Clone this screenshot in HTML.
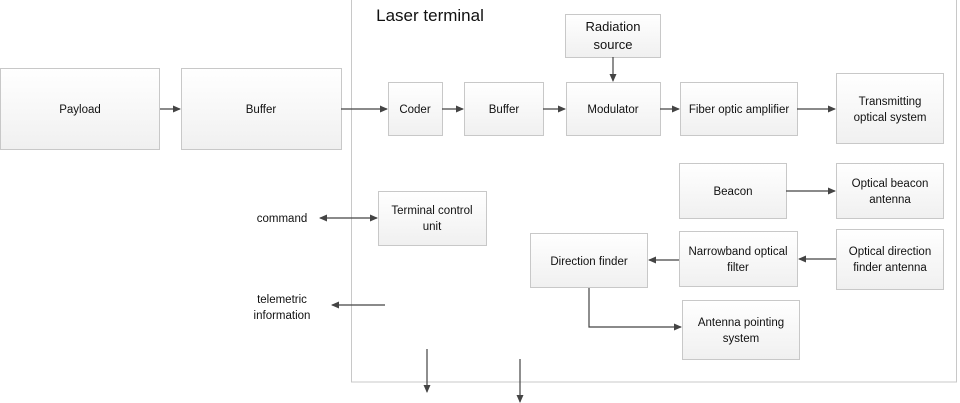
<!DOCTYPE html>
<html><head><meta charset="utf-8"><style>
html,body{margin:0;padding:0;background:#fff;}
svg{display:block;}
text{font-family:"Liberation Sans",sans-serif;font-size:11.5px;fill:#111;text-anchor:middle;}
.b{fill:url(#g);stroke:#c8c8c8;stroke-width:1;}
.l{stroke:#444;stroke-width:1.2;fill:none;}
</style></head><body>
<svg width="960" height="403" viewBox="0 0 960 403">
<defs>
<linearGradient id="g" x1="0" y1="0" x2="0" y2="1"><stop offset="0" stop-color="#ffffff"/><stop offset="1" stop-color="#f0f0f0"/></linearGradient>
<marker id="a" markerWidth="8" markerHeight="8" refX="7" refY="4" orient="auto" markerUnits="userSpaceOnUse"><path d="M0,0.5 L8,4 L0,7.5 z" fill="#444"/></marker>
<marker id="s" markerWidth="8" markerHeight="8" refX="1" refY="4" orient="auto" markerUnits="userSpaceOnUse"><path d="M8,0.5 L0,4 L8,7.5 z" fill="#444"/></marker>
</defs>
<rect x="351.5" y="-1" width="605" height="383" fill="none" stroke="#c8c8c8"/>
<text x="430" y="21" style="font-size:17px">Laser terminal</text>

<rect class="b" x="0.5" y="68.5" width="159" height="81"/><text x="80" y="113">Payload</text>
<rect class="b" x="181.5" y="68.5" width="160" height="81"/><text x="261" y="113">Buffer</text>
<rect class="b" x="388.5" y="82.5" width="54" height="53"/><text x="415" y="113">Coder</text>
<rect class="b" x="464.5" y="82.5" width="79" height="53"/><text x="504" y="113">Buffer</text>
<rect class="b" x="566.5" y="82.5" width="94" height="53"/><text x="613" y="113">Modulator</text>
<rect class="b" x="565.5" y="14.5" width="95" height="43"/><text x="613" y="31" style="font-size:13px">Radiation</text><text x="613" y="49" style="font-size:13px">source</text>
<rect class="b" x="680.5" y="82.5" width="117" height="53"/><text x="739" y="113">Fiber optic amplifier</text>
<rect class="b" x="836.5" y="73.5" width="107" height="70"/><text x="890" y="105">Transmitting</text><text x="890" y="121">optical system</text>
<rect class="b" x="679.5" y="163.5" width="107" height="55"/><text x="733" y="195">Beacon</text>
<rect class="b" x="836.5" y="163.5" width="107" height="55"/><text x="890" y="187">Optical beacon</text><text x="890" y="203">antenna</text>
<rect class="b" x="378.5" y="191.5" width="108" height="54"/><text x="432" y="214">Terminal control</text><text x="432" y="230">unit</text>
<rect class="b" x="530.5" y="233.5" width="117" height="54"/><text x="589" y="265">Direction finder</text>
<rect class="b" x="679.5" y="231.5" width="118" height="55"/><text x="738" y="255">Narrowband optical</text><text x="738" y="271">filter</text>
<rect class="b" x="836.5" y="229.5" width="107" height="60"/><text x="890" y="255">Optical direction</text><text x="890" y="271">finder antenna</text>
<rect class="b" x="682.5" y="300.5" width="117" height="59"/><text x="741" y="326">Antenna pointing</text><text x="741" y="342">system</text>

<line class="l" x1="160" y1="109" x2="180" y2="109" marker-end="url(#a)"/>
<line class="l" x1="341" y1="109" x2="387" y2="109" marker-end="url(#a)"/>
<line class="l" x1="442" y1="109" x2="463" y2="109" marker-end="url(#a)"/>
<line class="l" x1="543" y1="109" x2="565" y2="109" marker-end="url(#a)"/>
<line class="l" x1="613" y1="57" x2="613" y2="81" marker-end="url(#a)"/>
<line class="l" x1="660" y1="109" x2="679" y2="109" marker-end="url(#a)"/>
<line class="l" x1="797" y1="109" x2="835" y2="109" marker-end="url(#a)"/>
<line class="l" x1="786" y1="191" x2="835" y2="191" marker-end="url(#a)"/>
<line class="l" x1="836" y1="259" x2="799" y2="259" marker-end="url(#a)"/>
<line class="l" x1="679" y1="260" x2="649" y2="260" marker-end="url(#a)"/>
<polyline class="l" points="589,288 589,327 681,327" marker-end="url(#a)"/>
<line class="l" x1="320" y1="218" x2="377" y2="218" marker-start="url(#s)" marker-end="url(#a)"/>
<line class="l" x1="385" y1="305" x2="332" y2="305" marker-end="url(#a)"/>
<line class="l" x1="427" y1="349" x2="427" y2="392" marker-end="url(#a)"/>
<line class="l" x1="520" y1="359" x2="520" y2="402" marker-end="url(#a)"/>

<text x="282" y="222">command</text>
<text x="282" y="303">telemetric</text>
<text x="282" y="319">information</text>
</svg>
</body></html>
